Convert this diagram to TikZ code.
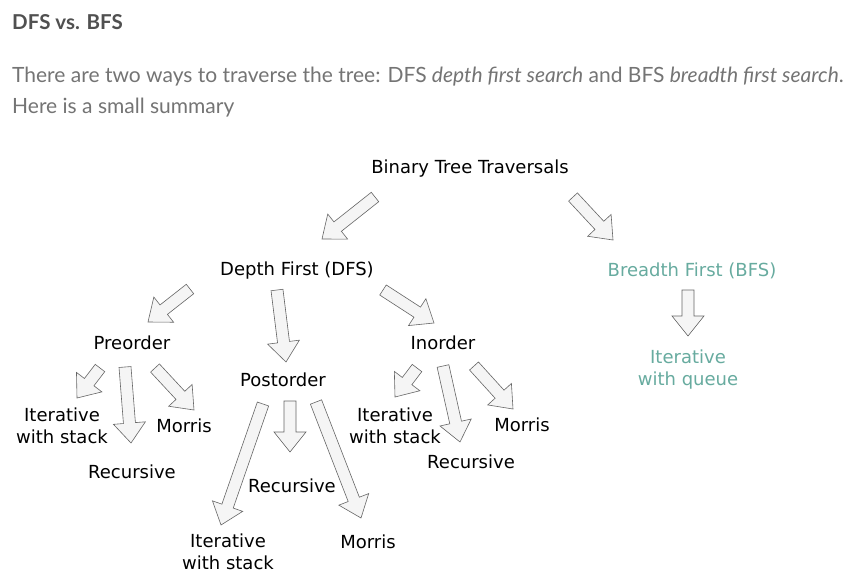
\documentclass[tikz,border=0pt]{standalone}
\usepackage{fontspec}
\setmainfont{Lato}
\newfontfamily\sketchfont{DejaVu Sans}
\usetikzlibrary{positioning,calc}
\definecolor{headgray}{HTML}{505050}
\definecolor{textgray}{HTML}{747474}
\definecolor{bfsteal}{HTML}{67AB9F}
\definecolor{arrowfill}{HTML}{F5F5F5}
\definecolor{arrowline}{HTML}{666666}
\tikzset{
  lbl/.style={font=\sketchfont\fontsize{18}{22}\selectfont, align=center, inner sep=1pt},
  bfslbl/.style={lbl, text=bfsteal},
  fat/.style={draw=arrowline, fill=arrowfill, line width=0.6pt, line join=miter},
  hd/.style={anchor=base west, inner sep=0pt, text=headgray, font=\bfseries\fontsize{20.5}{24}\selectfont},
  para/.style={anchor=base west, inner sep=0pt, text=textgray, font=\fontsize{21}{24}\selectfont},
}
% hollow block arrow from #1 (tail) to #2 (tip)
\newcommand{\fatarrow}[2]{%
  \coordinate (hb) at ($(#2)!20pt!(#1)$);
  \draw[fat] ($(#1)!6pt!90:(#2)$) -- ($(hb)!6pt!-90:(#1)$) -- ($(hb)!16pt!-90:(#1)$) -- (#2)
    -- ($(hb)!16pt!90:(#1)$) -- ($(hb)!6pt!90:(#1)$) -- ($(#1)!6pt!-90:(#2)$) -- cycle;
}

\begin{document}
\begin{tikzpicture}[x=1pt, y=-1pt]
\fill[white] (0,0) rectangle (851,579);
\useasboundingbox (0,0) rectangle (851,579);

% heading and intro
\node[hd] (title) at (12,29) {DFS vs. BFS};
\node[para] (intro) at (12,82) {There are two ways to traverse the tree: DFS \textit{depth first search} and BFS \textit{breadth first search}.};
\node[para] (intro2) at (12,113) {Here is a small summary};

% tree of traversals
\node[lbl] (root) at (470,169) {Binary Tree Traversals};
\node[lbl] (dfs) at (297,271) {Depth First (DFS)};
\node[bfslbl] (bfs) at (692,271) {Breadth First (BFS)};
\node[bfslbl] (bfsq) at (688,370) {Iterative\\with queue};
\node[lbl] (pre) at (132,343) {Preorder};
\node[lbl] (post) at (283,380) {Postorder};
\node[lbl] (ino) at (443,343) {Inorder};
\node[lbl] (preit) at (62,426) {Iterative\\with stack};
\node[lbl] (prerec) at (132,472) {Recursive};
\node[lbl] (premor) at (184,426) {Morris};
\node[lbl] (postit) at (228,552) {Iterative\\with stack};
\node[lbl] (postrec) at (292,486) {Recursive};
\node[lbl] (postmor) at (368,542) {Morris};
\node[lbl] (init) at (395,426) {Iterative\\with stack};
\node[lbl] (inrec) at (471,462) {Recursive};
\node[lbl] (inmor) at (522,425) {Morris};

% block arrows
\foreach \s/\e in {{375,197}/{322,239}, {573,197}/{613,240},
    {190,289}/{148,322}, {277,290}/{286,362}, {383,290}/{434,323}, {688,290}/{688,336},
    {100,368}/{77,398}, {125,367}/{131,443}, {155,368}/{194,410},
    {263,404}/{221,525}, {290,401}/{290,452}, {316,402}/{361,518},
    {417,368}/{395,397}, {443,366}/{460,442}, {474,366}/{513,409}} {
  \coordinate (tail) at (\s);
  \coordinate (tip) at (\e);
  \fatarrow{tail}{tip}
}
\end{tikzpicture}
\end{document}
